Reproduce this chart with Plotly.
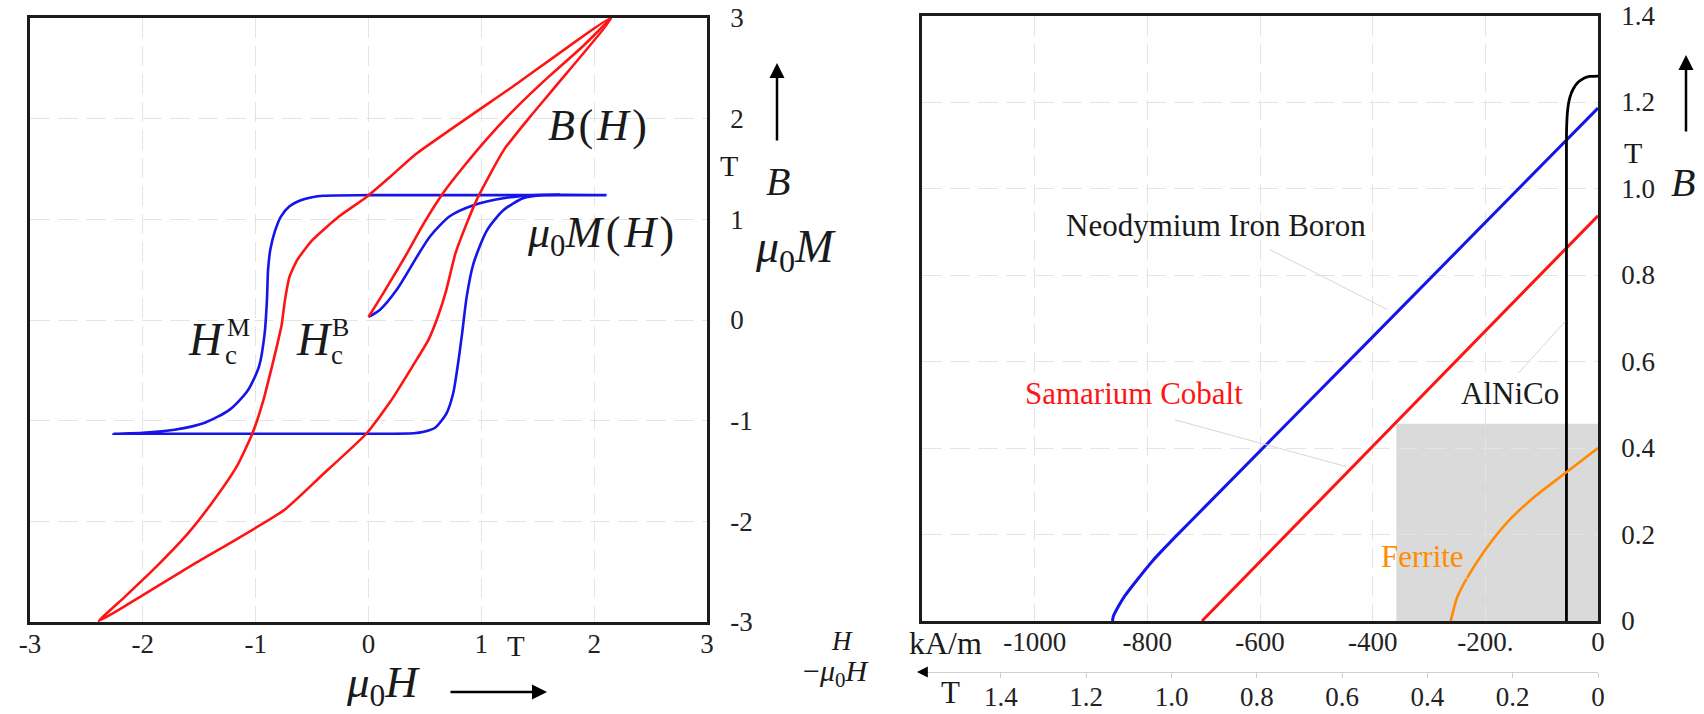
import plotly.graph_objects as go

W, H = 1704, 714
SERIF = "Liberation Serif, Times New Roman, serif"

# ---------- left panel: hysteresis loops (fields in tesla) ----------
# B(H) major loop: descending branch followed by ascending branch
b_loop_h = [2.15, 1.28, 0.41, 0.2, -0.02, -0.26, -0.5, -0.63, -0.70, -0.74, -0.77,
            -0.81, -0.855, -0.93, -1.03, -1.17, -1.37, -1.60, -1.88, -2.16, -2.39,
            -1.57, -0.75, -0.42, -0.02, 0.2, 0.39, 0.53, 0.62, 0.69, 0.77, 0.86,
            0.97, 1.2, 1.44, 1.68, 2.15]
b_loop_b = [3.0, 2.32, 1.64, 1.43, 1.22, 1.03, 0.79, 0.6, 0.43, 0.2, -0.05,
            -0.25, -0.46, -0.79, -1.13, -1.46, -1.79, -2.12, -2.45, -2.75, -2.99,
            -2.44, -1.89, -1.55, -1.13, -0.8, -0.46, -0.2, 0.05, 0.3, 0.66, 0.93,
            1.22, 1.69, 2.03, 2.35, 3.0]

# B(H) initial magnetization curve
b_virgin_h = [0.0, 0.13, 0.34, 0.49, 0.66, 0.84, 1.05, 1.3, 1.6, 1.9, 2.15]
b_virgin_b = [0.03, 0.265, 0.66, 0.96, 1.26, 1.52, 1.8, 2.1, 2.42, 2.72, 3.0]

# mu0*M(H) major loop
m_loop_h = [2.11, 1.0, 0.0, -0.4, -0.5, -0.6, -0.7, -0.775, -0.83, -0.87, -0.89,
            -0.9, -0.92, -0.97, -1.07, -1.23, -1.45, -1.72, -2.0, -2.26,
            -1.5, 0.0, 0.4, 0.49, 0.59, 0.69, 0.75, 0.79, 0.83, 0.87, 0.93,
            1.05, 1.195, 1.37, 1.55, 2.11]
m_loop_m = [1.24, 1.24, 1.24, 1.235, 1.22, 1.19, 1.13, 1.03, 0.88, 0.7, 0.5,
            0.2, -0.13, -0.46, -0.70, -0.89, -1.02, -1.09, -1.12, -1.13,
            -1.13, -1.13, -1.125, -1.11, -1.07, -0.93, -0.73, -0.46, -0.13, 0.23, 0.56,
            0.89, 1.09, 1.21, 1.24, 1.24]

# mu0*M(H) initial magnetization curve
m_virgin_h = [0.0, 0.1, 0.25, 0.43, 0.545, 0.72, 0.93, 1.195, 1.49, 1.7]
m_virgin_m = [0.03, 0.1, 0.3, 0.63, 0.83, 1.03, 1.14, 1.21, 1.24, 1.245]

left_ticks = [-3, -2, -1, 0, 1, 2, 3]
left_ticktext = ["-3", "-2", "-1", "0", "1", "2", "3"]

# ---------- right panel: demagnetization curves (H in kA/m, B in T) ----------
ndfeb_h = [0, -400, -700, -750, -790, -820, -840, -853, -860, -862]
ndfeb_b = [1.186, 0.657, 0.261, 0.195, 0.14, 0.092, 0.058, 0.03, 0.012, 0.0]

smco_h = [0, -703]
smco_b = [0.937, 0.0]

alnico_h = [0, -15, -25, -35, -44, -50, -54, -55.7, -56, -56]
alnico_b = [1.26, 1.259, 1.255, 1.246, 1.23, 1.21, 1.18, 1.14, 1.1, 0.0]

ferrite_h = [0, -55, -110, -160, -200, -230, -250, -261.5]
ferrite_b = [0.40, 0.345, 0.29, 0.23, 0.165, 0.105, 0.055, 0.0]

h_ticks = [-1000, -800, -600, -400, -200, 0]
h_ticktext = ["-1000", "-800", "-600", "-400", "-200.", "0"]
mu0h_ticks = [1.4, 1.2, 1.0, 0.8, 0.6, 0.4, 0.2, 0]
mu0h_ticktext = ["1.4", "1.2", "1.0", "0.8", "0.6", "0.4", "0.2", "0"]
b_ticks = [0, 0.2, 0.4, 0.6, 0.8, 1.0, 1.2, 1.4]
b_ticktext = ["0", "0.2", "0.4", "0.6", "0.8", "1.0", "1.2", "1.4"]

RED = "rgb(255,20,20)"
BLUE = "rgb(20,20,235)"
ORANGE = "rgb(255,140,0)"

fig = go.Figure()


def curve(x, y, color, xa, ya, width=2.6, smooth=0.7):
    fig.add_trace(go.Scatter(
        x=x, y=y, xaxis=xa, yaxis=ya, mode="lines",
        line=dict(color=color, width=width, shape="spline", smoothing=smooth),
        hoverinfo="skip", showlegend=False))


curve(m_loop_h, m_loop_m, BLUE, "x", "y")
curve(m_virgin_h, m_virgin_m, BLUE, "x", "y")
curve(b_loop_h, b_loop_b, RED, "x", "y", smooth=0.5)
curve(b_virgin_h, b_virgin_b, RED, "x", "y")

curve(ndfeb_h, ndfeb_b, BLUE, "x2", "y2", width=3, smooth=0.6)
curve(smco_h, smco_b, RED, "x2", "y2", width=3)
curve(alnico_h, alnico_b, "black", "x2", "y2", width=2.8, smooth=0.8)
curve(ferrite_h, ferrite_b, ORANGE, "x2", "y2", width=2.6, smooth=0.6)

# placeholder trace so the secondary mu0*H scale is laid out
fig.add_trace(go.Scatter(x=[0], y=[0], xaxis="x3", yaxis="y2", mode="markers",
                         marker=dict(opacity=0), hoverinfo="skip", showlegend=False))

TICKFONT = dict(family=SERIF, size=27, color="#222")
grid = dict(showgrid=True, gridcolor="#e4e4e4", gridwidth=1, griddash="20px,8px",
            zeroline=False, showline=True, mirror=True, linecolor="#1c1c1c",
            linewidth=2.6, ticks="", automargin=False, tickfont=TICKFONT)

fig.update_layout(
    width=W, height=H, margin=dict(l=0, r=0, t=0, b=0, autoexpand=False),
    paper_bgcolor="white", plot_bgcolor="white",
    xaxis=dict(grid, domain=[30 / W, 707 / W], range=[-3, 3], anchor="y",
               tickvals=left_ticks, ticktext=left_ticktext, ticklabelstandoff=-4),
    yaxis=dict(grid, domain=[(H - 622) / H, (H - 18) / H], range=[-3, 3], anchor="x",
               side="right", tickvals=left_ticks, ticktext=left_ticktext,
               ticklabelstandoff=15),
    xaxis2=dict(grid, domain=[922 / W, 1598 / W], range=[-1200, 0], anchor="y2",
                tickvals=h_ticks, ticktext=h_ticktext, ticklabelstandoff=-5),
    yaxis2=dict(grid, domain=[(H - 621) / H, (H - 15.5) / H], range=[0, 1.4],
                anchor="x2", side="right", tickvals=b_ticks, ticktext=b_ticktext,
                ticklabelstandoff=15),
    xaxis3=dict(overlaying="x2", anchor="free", position=(H - 672) / H,
                range=[1.585, 0], showgrid=False, zeroline=False, showline=True,
                linecolor="#cfcfcf", linewidth=1, ticks="outside", ticklen=5,
                tickcolor="#cfcfcf", tickvals=mu0h_ticks, ticktext=mu0h_ticktext,
                automargin=False, ticklabelstandoff=-4, tickfont=TICKFONT),
)

# highlighted region under the ferrite curve
fig.add_shape(type="rect", xref="x2", yref="y2", x0=-358, x1=0, y0=0, y1=0.456,
              fillcolor="#dadada", line=dict(width=0), layer="below")

# leader lines from the material labels to their curves
leaders = [(-583, 0.859, -373.7, 0.720), (-751, 0.465, -446.7, 0.357),
           (-280.5, 0.122, -227.2, 0.0964), (-141.5, 0.573, -58.6, 0.692)]
for x0, y0, x1, y1 in leaders:
    fig.add_shape(type="line", xref="x2", yref="y2", x0=x0, y0=y0, x1=x1, y1=y1,
                  line=dict(color="#d6d6d6", width=1))


def label(text, x, y, size, color="#1a1a1a", xref="paper", yref="paper"):
    if xref == "paper":
        x, y = x / W, (H - y) / H
    fig.add_annotation(text=text, x=x, y=y, xref=xref, yref=yref, showarrow=False,
                       xanchor="center", yanchor="middle",
                       font=dict(family=SERIF, size=size, color=color))


def arrow(x, y, ax, ay, width=2.5, size=1.2):
    fig.add_annotation(text="", x=x / W, y=(H - y) / H, xref="paper", yref="paper",
                       ax=ax, ay=ay, axref="pixel", ayref="pixel", showarrow=True,
                       arrowhead=2, arrowsize=size, arrowwidth=width,
                       arrowcolor="black")


HS = "\u200a"  # hair space for slightly wider math spacing

# left panel curve labels
label(f"<i>B</i>{HS}({HS}<i>H</i>{HS})", 2.03, 1.937, 44, xref="x", yref="y")
label(f"<i>μ</i><sub>0</sub><i>M</i>{HS}({HS}<i>H</i>{HS})", 2.059, 0.844, 44,
      xref="x", yref="y")
label("<i>H</i>", -1.434, -0.191, 46, xref="x", yref="y")
label("M", -1.154, -0.077, 26, xref="x", yref="y")
label("c", -1.223, -0.348, 27, xref="x", yref="y")
label("<i>H</i>", -0.481, -0.189, 46, xref="x", yref="y")
label("B", -0.245, -0.075, 26, xref="x", yref="y")
label("c", -0.275, -0.348, 27, xref="x", yref="y")

# left panel axis titles
label("T", 516, 646, 29)
label("<i>μ</i><sub>0</sub><i>H</i>", 383, 685, 45)
arrow(547, 692, -98, 0)
label("T", 729, 166, 30)
arrow(777, 63, 0, 79)
label("<i>B</i>", 778, 181, 40)
label("<i>μ</i><sub>0</sub><i>M</i>", 795, 250, 46)

# right panel material labels
label("Neodymium Iron Boron", -678, 0.9156, 31, xref="x2", yref="y2")
label("Samarium Cobalt", -822.8, 0.525, 31, color=RED, xref="x2", yref="y2")
label("AlNiCo", -156.2, 0.525, 31, xref="x2", yref="y2")
label("Ferrite", -310.7, 0.150, 31, color=ORANGE, xref="x2", yref="y2")

# right panel axis titles
label("<i>H</i>", 842, 641, 27)
label("−<i>μ</i><sub>0</sub><i>H</i>", 836, 673, 30)
label("kA/m", 945, 643, 32)
label("T", 950, 692, 31)
arrow(917, 672, 12, 0, width=1.2, size=1.8)
label("T", 1633, 152, 30)
arrow(1686, 55, 0, 78)
label("<i>B</i>", 1683, 182, 40)

fig.write_html("out.html")
